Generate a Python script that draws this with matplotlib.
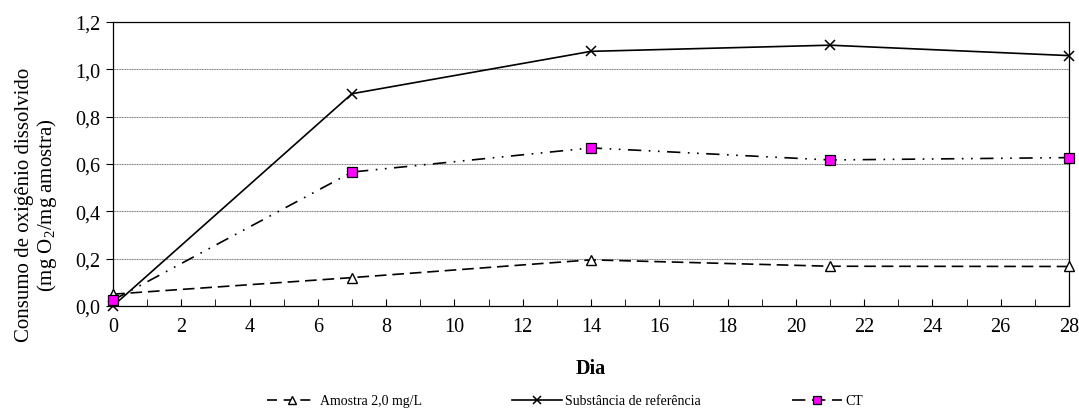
import matplotlib.pyplot as plt
from matplotlib.lines import Line2D
from matplotlib.ticker import MultipleLocator, FuncFormatter

plt.rcParams['font.family'] = ['Liberation Serif', 'DejaVu Serif']
plt.rcParams['mathtext.fontset'] = 'custom'
plt.rcParams['mathtext.rm'] = 'Liberation Serif'

dias = [0, 7, 14, 21, 28]
amostra = [0.05, 0.12, 0.195, 0.168, 0.167]
referencia = [0.0, 0.897, 1.076, 1.102, 1.058]
ct = [0.025, 0.566, 0.668, 0.617, 0.627]

fig = plt.figure(figsize=(10.79, 4.10), dpi=100)
ax = fig.add_axes([113 / 1079, 1 - 307 / 410, (1069 - 113) / 1079, (307 - 23) / 410])

dash_am = (0, (7, 3.5))
dash_ct = (0, (8, 4.5, 1, 4.5, 1, 4.5))

ax.plot(dias, amostra, color='black', lw=1.2, ls=dash_am,
        marker='^', ms=7, mfc='white', mec='black', mew=1,
        clip_on=False, zorder=3)
ax.plot(dias, referencia, color='black', lw=1.2, ls='-',
        marker='x', ms=7, mew=1.1, clip_on=False, zorder=3)
ax.plot(dias, ct, color='black', lw=1.2, ls=dash_ct,
        marker='s', ms=7, mfc='#ff00ff', mec='black', mew=0.9,
        clip_on=False, zorder=4)

ax.set_xlim(0, 28)
ax.set_ylim(0, 1.2)
ax.xaxis.set_major_locator(MultipleLocator(2))
ax.xaxis.set_minor_locator(MultipleLocator(1))
ax.yaxis.set_major_locator(MultipleLocator(0.2))
ax.yaxis.set_major_formatter(FuncFormatter(lambda v, p: f"{v:.1f}".replace('.', ',')))
ax.tick_params(axis='x', which='both', direction='in', length=5, labelsize=14.5, pad=8)
ax.tick_params(axis='y', direction='out', length=5, labelsize=14.5, pad=4)
ax.grid(axis='y', color='#808080', ls=(0, (1, 0.5)), lw=0.8)
for s in ax.spines.values():
    s.set_linewidth(0.9)

ax.set_xlabel('Dia', fontsize=14.5, fontweight='bold', labelpad=16)
ax.set_ylabel('Consumo de oxigênio dissolvido\n(mg $\\mathrm{O}_2$/mg amostra)', fontsize=15,
              labelpad=12, linespacing=1.05)
ax.yaxis.label.set_y(0.36)

# legend proxies, as drawn in the reference
h1 = Line2D([], [], color='black', lw=1.2, ls=(0, (6, 4)), marker='^', ms=6,
            mfc='white', mec='black', mew=1)
h2 = Line2D([], [], color='black', lw=1.2, ls='-', marker='x', ms=6, mew=1.1)
h3 = Line2D([], [], color='black', lw=1.2, ls=(0, (8, 4)), marker='s', ms=6,
            mfc='#ff00ff', mec='black', mew=0.9)
labels = ['Amostra 2,0 mg/L', 'Substância de referência', 'CT']
xs = [267, 512, 792]
for h, lab, x in zip([h1, h2, h3], labels, xs):
    fig.legend(handles=[h], labels=[lab], loc='center left',
               bbox_to_anchor=(x / 1079, 1 - 402 / 410),
               frameon=False, fontsize=10, handlelength=3.6, handletextpad=0.25,
               borderaxespad=0, borderpad=0)

fig.savefig('out.png', dpi=100)
